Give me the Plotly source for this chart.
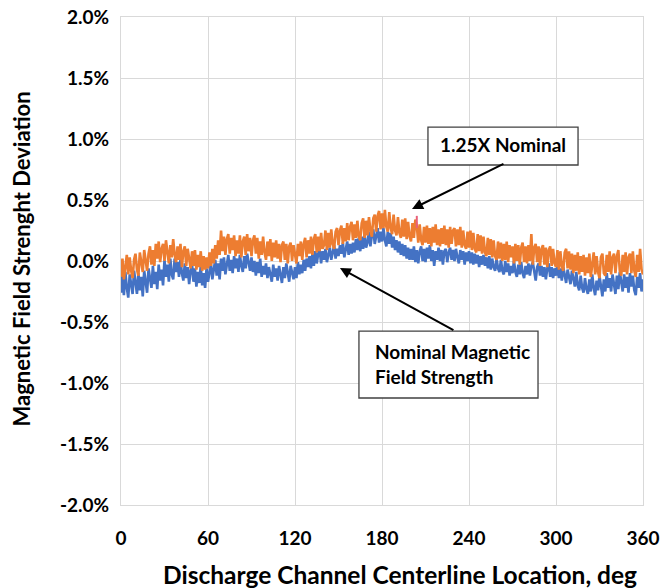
import plotly.graph_objects as go

deg = list(range(0, 361))

nominal_pct = [
    -0.26,-0.12,-0.28,-0.09,-0.22,-0.30,-0.11,-0.20,-0.27,-0.08,
    -0.19,-0.27,-0.10,-0.24,-0.13,-0.29,-0.08,-0.18,-0.26,-0.06,
    -0.15,-0.22,-0.04,-0.19,-0.09,-0.23,-0.03,-0.16,-0.07,-0.20,
    0.01,-0.13,-0.03,-0.17,0.02,-0.11,-0.15,0.02,-0.09,-0.01,
    -0.13,0.01,-0.10,-0.16,-0.02,-0.14,-0.05,-0.19,-0.08,-0.03,
    -0.17,-0.06,-0.21,-0.09,-0.18,-0.04,-0.20,-0.10,-0.22,-0.06,
    -0.17,-0.09,-0.02,-0.15,-0.05,0.01,-0.12,-0.02,-0.15,0.02,
    -0.08,0.03,-0.11,-0.01,0.05,-0.08,0.01,-0.10,0.04,-0.06,
    0.02,-0.09,0.05,-0.04,-0.09,0.04,-0.06,0.06,-0.03,-0.08,
    0.03,-0.09,0.00,-0.12,-0.01,-0.10,0.02,-0.13,-0.04,-0.11,
    -0.02,-0.14,-0.05,-0.12,-0.17,-0.03,-0.13,-0.06,-0.16,-0.04,
    -0.11,-0.18,-0.05,-0.14,-0.02,-0.12,-0.17,-0.04,-0.11,-0.15,
    -0.05,-0.14,-0.01,-0.11,-0.03,-0.10,0.01,-0.08,0.02,-0.05,
    0.04,-0.06,0.06,-0.04,0.08,-0.02,0.06,0.09,-0.02,0.08,
    0.01,0.10,-0.01,0.07,0.11,0.01,0.08,0.13,0.02,0.10,
    0.04,0.13,0.06,0.15,0.03,0.11,0.16,0.05,0.14,0.06,
    0.15,0.07,0.18,0.09,0.19,0.08,0.20,0.10,0.22,0.11,
    0.15,0.24,0.12,0.21,0.26,0.14,0.22,0.27,0.15,0.24,
    0.16,0.27,0.17,0.12,0.24,0.14,0.23,0.11,0.20,0.09,
    0.17,0.07,0.16,0.05,0.14,0.04,0.13,0.02,0.11,0.01,
    0.10,0.01,0.12,-0.01,0.09,-0.02,0.08,0.12,0.00,0.10,
    -0.01,0.11,0.02,0.13,0.00,0.09,-0.04,0.08,0.01,0.11,
    0.00,0.09,-0.03,0.08,0.10,-0.01,0.07,0.11,0.01,0.09,
    0.00,0.10,0.03,-0.02,0.09,0.01,0.08,-0.03,0.07,0.00,
    0.08,-0.02,0.07,-0.03,0.06,-0.02,0.05,-0.05,0.04,-0.03,
    0.05,-0.04,0.03,-0.06,0.04,-0.07,0.02,-0.05,-0.08,0.02,
    -0.06,-0.09,0.01,-0.08,-0.11,0.00,-0.09,-0.02,-0.12,-0.04,
    -0.10,0.00,-0.09,-0.13,-0.03,-0.11,-0.01,-0.10,-0.14,-0.04,
    -0.11,-0.02,-0.12,-0.04,-0.01,-0.11,-0.16,-0.05,-0.02,-0.12,
    -0.04,-0.13,-0.05,-0.15,-0.06,-0.02,-0.13,-0.05,-0.14,-0.06,
    -0.12,-0.04,-0.14,-0.06,-0.16,-0.05,-0.13,-0.18,-0.07,-0.15,
    -0.19,-0.08,-0.16,-0.21,-0.09,-0.20,-0.24,-0.12,-0.22,-0.26,
    -0.14,-0.23,-0.27,-0.15,-0.25,-0.11,-0.22,-0.28,-0.16,-0.24,
    -0.12,-0.23,-0.29,-0.15,-0.25,-0.10,-0.22,-0.14,-0.25,-0.11,
    -0.21,-0.27,-0.12,-0.23,-0.09,-0.19,-0.25,-0.11,-0.22,-0.13,
    -0.26,-0.10,-0.21,-0.12,-0.24,-0.28,-0.13,-0.22,-0.10,-0.25,
    -0.15,
]

x125_pct = [
    -0.13,0.02,-0.15,-0.04,0.05,-0.11,0.03,-0.08,-0.14,0.01,
    0.06,-0.07,-0.12,0.07,-0.03,-0.09,0.09,-0.01,-0.08,0.06,
    0.12,-0.03,0.09,-0.04,0.14,0.02,0.16,-0.01,0.10,0.14,
    0.00,0.17,0.07,-0.02,0.13,0.03,0.18,0.05,-0.01,0.12,
    0.01,0.14,-0.05,0.08,0.12,-0.04,0.10,0.02,-0.06,0.08,
    -0.04,0.09,-0.07,0.05,-0.05,0.08,-0.08,0.04,-0.07,0.03,
    -0.06,0.07,-0.04,0.10,-0.02,0.13,0.02,0.17,0.05,0.25,
    0.08,0.20,0.05,0.18,0.22,0.06,0.19,0.09,0.21,0.04,
    0.17,0.06,0.21,0.03,0.16,0.20,0.05,0.22,0.08,0.19,
    0.04,0.17,0.21,0.06,0.19,0.02,0.16,0.05,0.20,0.07,
    0.01,0.16,0.04,0.18,0.00,0.15,0.03,0.17,0.02,0.14,
    -0.01,0.13,0.16,0.01,0.14,-0.02,0.12,0.15,0.00,0.13,
    0.03,-0.02,0.14,0.04,0.16,0.01,0.14,0.19,0.03,0.17,
    0.06,0.20,0.05,0.18,0.22,0.07,0.20,0.08,0.23,0.10,
    0.13,0.25,0.09,0.23,0.11,0.26,0.14,0.10,0.24,0.27,
    0.13,0.25,0.29,0.14,0.27,0.16,0.31,0.17,0.28,0.32,
    0.17,0.30,0.19,0.33,0.20,0.17,0.31,0.35,0.19,0.33,
    0.21,0.36,0.25,0.20,0.35,0.38,0.24,0.37,0.41,0.26,
    0.39,0.27,0.42,0.28,0.24,0.40,0.27,0.22,0.38,0.25,
    0.21,0.36,0.23,0.19,0.34,0.20,0.35,0.18,0.32,0.20,
    0.16,0.31,0.19,0.34,0.29,0.15,0.30,0.17,0.13,0.28,
    0.15,0.29,0.14,0.27,0.12,0.28,0.15,0.30,0.13,0.26,
    0.12,0.27,0.14,0.29,0.13,0.26,0.11,0.28,0.14,0.25,
    0.27,0.12,0.26,0.13,0.28,0.11,0.25,0.13,0.10,0.24,
    0.11,0.25,0.09,0.23,0.10,0.07,0.22,0.08,0.21,0.06,
    0.20,0.07,0.04,0.19,0.05,0.18,0.03,0.17,0.04,0.01,
    0.16,0.02,0.15,0.00,0.14,0.01,0.16,-0.01,0.13,0.03,
    0.12,-0.02,0.14,0.00,0.13,-0.03,0.11,0.15,-0.01,0.12,
    -0.02,0.13,0.00,0.22,-0.03,0.11,0.14,-0.01,0.12,-0.04,
    0.10,0.13,-0.03,0.11,-0.05,0.09,0.12,-0.04,0.10,-0.02,
    -0.05,0.09,-0.07,0.08,-0.04,-0.08,0.07,0.10,-0.06,0.08,
    -0.07,0.06,-0.10,0.05,-0.08,0.07,-0.11,0.04,-0.09,0.05,
    -0.12,0.03,-0.10,0.06,-0.13,-0.02,0.07,-0.11,0.04,-0.09,
    -0.14,0.03,0.06,-0.10,-0.12,0.05,-0.09,0.08,-0.11,0.03,
    0.06,-0.10,0.04,0.09,-0.08,-0.12,0.05,-0.09,0.07,-0.11,
    0.03,0.06,-0.10,0.08,-0.08,-0.13,0.05,-0.09,0.10,-0.07,
    -0.11,
]

spike_deg = [204, 204]
spike_pct = [0.27, 0.37]

x_ticks = [0, 60, 120, 180, 240, 300, 360]
y_ticks = [-0.02, -0.015, -0.01, -0.005, 0.0, 0.005, 0.01, 0.015, 0.02]
y_ticktext = ["-2.0%", "-1.5%", "-1.0%", "-0.5%", "0.0%", "0.5%", "1.0%", "1.5%", "2.0%"]

FONT = "Lato"
BLUE = "#4472C4"
ORANGE = "#ED7D31"
GRID = "#d9d9d9"
BOX = "#404040"

fig = go.Figure()
fig.add_trace(go.Scatter(x=deg, y=[v / 100 for v in nominal_pct], mode="lines",
                         line=dict(color=BLUE, width=2.6), name="Nominal"))
fig.add_trace(go.Scatter(x=deg, y=[v / 100 for v in x125_pct], mode="lines",
                         line=dict(color=ORANGE, width=2.6), name="1.25X"))
fig.add_trace(go.Scatter(x=spike_deg, y=[v / 100 for v in spike_pct], mode="lines",
                         line=dict(color="#e8607a", width=2), name="spike"))

fig.update_layout(
    width=664, height=588,
    margin=dict(l=121, r=21, t=17, b=83),
    paper_bgcolor="white", plot_bgcolor="white",
    showlegend=False,
    font=dict(family=FONT, color="black", size=16),
)
fig.update_xaxes(
    range=[0, 360], tickvals=x_ticks, ticktext=[str(t) for t in x_ticks],
    showgrid=True, gridcolor=GRID, gridwidth=1,
    showline=True, linecolor=GRID, linewidth=1, mirror=True,
    zeroline=False, automargin=False,
    ticks="outside", ticklen=16, tickcolor="rgba(0,0,0,0)",
    tickfont=dict(family=FONT, size=19, color="black", weight="bold"),
)
fig.update_yaxes(
    range=[-0.02, 0.02], tickvals=y_ticks, ticktext=y_ticktext,
    showgrid=True, gridcolor=GRID, gridwidth=1,
    showline=True, linecolor=GRID, linewidth=1, mirror=True,
    zeroline=False, automargin=False,
    ticks="outside", ticklen=7, tickcolor="rgba(0,0,0,0)",
    tickfont=dict(family=FONT, size=19, color="black", weight="bold"),
)

# Axis titles
fig.add_annotation(
    x=0.5345, y=-0.1434, xref="paper", yref="paper",
    text="<b>Discharge Channel Centerline Location, deg</b>", showarrow=False,
    font=dict(family=FONT, size=24.5, color="black"),
    xanchor="center", yanchor="middle",
)
fig.add_annotation(
    x=-0.1897, y=0.505, xref="paper", yref="paper",
    text="<b>Magnetic Field Strenght Deviation</b>", showarrow=False,
    font=dict(family=FONT, size=22, color="black"), textangle=-90,
    xanchor="center", yanchor="middle",
)

# Callout boxes
fig.add_shape(type="rect", xref="x", yref="y",
              x0=211.7, x1=315.2, y0=0.00787, y1=0.01098,
              line=dict(color=BOX, width=1.3), fillcolor="white", layer="above")
fig.add_annotation(
    x=263.4, y=0.00959, xref="x", yref="y",
    text="<b>1.25X Nominal</b>", showarrow=False,
    font=dict(family=FONT, size=19, color="black"),
    xanchor="center", yanchor="middle",
)
fig.add_shape(type="rect", xref="x", yref="y",
              x0=164.1, x1=287.6, y0=-0.01123, y1=-0.00574,
              line=dict(color=BOX, width=1.3), fillcolor="white", layer="above")
fig.add_annotation(
    x=173.8, y=-0.00848, xref="x", yref="y",
    text="<b>Nominal Magnetic<br>Field Strength</b>", showarrow=False,
    font=dict(family=FONT, size=19, color="black"), align="left",
    xanchor="left", yanchor="middle",
)
# Arrows
fig.add_annotation(
    x=200.7, y=0.00426, xref="x", yref="y",
    ax=264.8, ay=0.00803, axref="x", ayref="y",
    text="", showarrow=True, arrowhead=2, arrowsize=1.1, arrowwidth=2,
    arrowcolor="black",
)
fig.add_annotation(
    x=151.0, y=-0.00057, xref="x", yref="y",
    ax=230.3, ay=-0.00574, axref="x", ayref="y",
    text="", showarrow=True, arrowhead=2, arrowsize=1.1, arrowwidth=2,
    arrowcolor="black",
)

fig.write_html("out.html")
